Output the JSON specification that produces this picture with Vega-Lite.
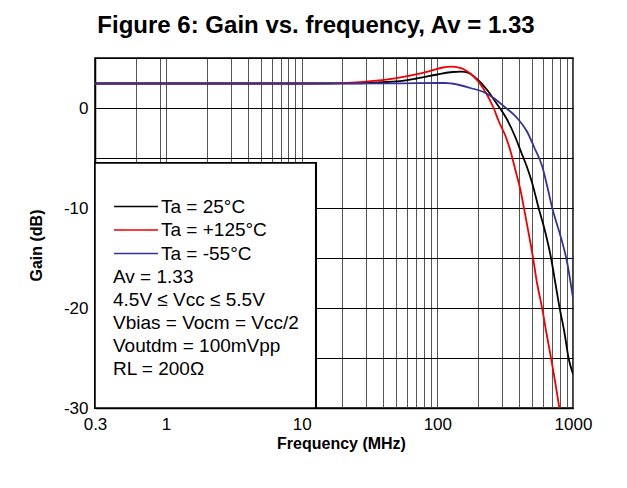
{
  "$schema": "https://vega.github.io/schema/vega-lite/v6.json",
  "width": 478,
  "height": 350,
  "autosize": {"type": "none"},
  "padding": {"left": 95, "top": 58, "right": 54, "bottom": 80},
  "background": "white",
  "title": {
    "text": "Figure 6: Gain vs. frequency, Av = 1.33",
    "font": "Liberation Sans",
    "fontSize": 24,
    "fontWeight": "bold",
    "color": "#000",
    "anchor": "middle",
    "dx": -18,
    "offset": 11
  },
  "config": {
    "font": "Liberation Sans",
    "view": {"stroke": "#000", "strokeWidth": 1.5},
    "axis": {
      "labelFont": "Liberation Sans",
      "labelFontSize": 17,
      "labelColor": "#000",
      "titleFont": "Liberation Sans",
      "titleFontSize": 16,
      "titleFontWeight": "bold",
      "titleColor": "#000",
      "domainColor": "#000",
      "domainWidth": 1.5,
      "ticks": false,
      "tickSize": 0,
      "gridColor": "#000",
      "gridWidth": 1,
      "gridOpacity": 1,
      "labelOverlap": false,
      "labelFlush": false
    }
  },
  "data": {
    "values": [
      {"f": 0.3, "g": 2.45, "t": "Ta = 25°C"},
      {"f": 1, "g": 2.45, "t": "Ta = 25°C"},
      {"f": 10, "g": 2.45, "t": "Ta = 25°C"},
      {"f": 20, "g": 2.46, "t": "Ta = 25°C"},
      {"f": 30, "g": 2.5, "t": "Ta = 25°C"},
      {"f": 40, "g": 2.58, "t": "Ta = 25°C"},
      {"f": 50, "g": 2.66, "t": "Ta = 25°C"},
      {"f": 70, "g": 2.95, "t": "Ta = 25°C"},
      {"f": 100, "g": 3.35, "t": "Ta = 25°C"},
      {"f": 130, "g": 3.6, "t": "Ta = 25°C"},
      {"f": 150, "g": 3.63, "t": "Ta = 25°C"},
      {"f": 170, "g": 3.5, "t": "Ta = 25°C"},
      {"f": 196, "g": 2.9, "t": "Ta = 25°C"},
      {"f": 233, "g": 1.8, "t": "Ta = 25°C"},
      {"f": 272, "g": 0.5, "t": "Ta = 25°C"},
      {"f": 322, "g": -1.0, "t": "Ta = 25°C"},
      {"f": 370, "g": -2.7, "t": "Ta = 25°C"},
      {"f": 420, "g": -4.6, "t": "Ta = 25°C"},
      {"f": 458, "g": -5.9, "t": "Ta = 25°C"},
      {"f": 500, "g": -7.5, "t": "Ta = 25°C"},
      {"f": 558, "g": -10, "t": "Ta = 25°C"},
      {"f": 627, "g": -12.5, "t": "Ta = 25°C"},
      {"f": 689, "g": -15, "t": "Ta = 25°C"},
      {"f": 741, "g": -17.5, "t": "Ta = 25°C"},
      {"f": 797, "g": -20, "t": "Ta = 25°C"},
      {"f": 866, "g": -22.5, "t": "Ta = 25°C"},
      {"f": 927, "g": -25, "t": "Ta = 25°C"},
      {"f": 1000, "g": -26.6, "t": "Ta = 25°C"},
      {"f": 0.3, "g": 2.45, "t": "Ta = +125°C"},
      {"f": 1, "g": 2.45, "t": "Ta = +125°C"},
      {"f": 10, "g": 2.45, "t": "Ta = +125°C"},
      {"f": 16, "g": 2.47, "t": "Ta = +125°C"},
      {"f": 28.6, "g": 2.62, "t": "Ta = +125°C"},
      {"f": 50, "g": 2.98, "t": "Ta = +125°C"},
      {"f": 70.8, "g": 3.38, "t": "Ta = +125°C"},
      {"f": 88.8, "g": 3.72, "t": "Ta = +125°C"},
      {"f": 110, "g": 4.05, "t": "Ta = +125°C"},
      {"f": 125, "g": 4.13, "t": "Ta = +125°C"},
      {"f": 147, "g": 4.02, "t": "Ta = +125°C"},
      {"f": 175, "g": 3.45, "t": "Ta = +125°C"},
      {"f": 202, "g": 2.6, "t": "Ta = +125°C"},
      {"f": 233, "g": 1.3, "t": "Ta = +125°C"},
      {"f": 260, "g": 0, "t": "Ta = +125°C"},
      {"f": 284, "g": -1.35, "t": "Ta = +125°C"},
      {"f": 318, "g": -2.8, "t": "Ta = +125°C"},
      {"f": 346, "g": -4.3, "t": "Ta = +125°C"},
      {"f": 376, "g": -6.2, "t": "Ta = +125°C"},
      {"f": 410, "g": -8.2, "t": "Ta = +125°C"},
      {"f": 446, "g": -10.8, "t": "Ta = +125°C"},
      {"f": 486, "g": -13.5, "t": "Ta = +125°C"},
      {"f": 508, "g": -15, "t": "Ta = +125°C"},
      {"f": 543, "g": -17.5, "t": "Ta = +125°C"},
      {"f": 592, "g": -20, "t": "Ta = +125°C"},
      {"f": 637, "g": -22.5, "t": "Ta = +125°C"},
      {"f": 689, "g": -25, "t": "Ta = +125°C"},
      {"f": 741, "g": -27.5, "t": "Ta = +125°C"},
      {"f": 793, "g": -30, "t": "Ta = +125°C"},
      {"f": 0.3, "g": 2.45, "t": "Ta = -55°C"},
      {"f": 1, "g": 2.45, "t": "Ta = -55°C"},
      {"f": 10, "g": 2.45, "t": "Ta = -55°C"},
      {"f": 50, "g": 2.46, "t": "Ta = -55°C"},
      {"f": 100, "g": 2.5, "t": "Ta = -55°C"},
      {"f": 115, "g": 2.5, "t": "Ta = -55°C"},
      {"f": 140, "g": 2.35, "t": "Ta = -55°C"},
      {"f": 175, "g": 2.0, "t": "Ta = -55°C"},
      {"f": 219, "g": 1.6, "t": "Ta = -55°C"},
      {"f": 260, "g": 1.0, "t": "Ta = -55°C"},
      {"f": 309, "g": 0.17, "t": "Ta = -55°C"},
      {"f": 387, "g": -1.0, "t": "Ta = -55°C"},
      {"f": 458, "g": -2.35, "t": "Ta = -55°C"},
      {"f": 520, "g": -4.0, "t": "Ta = -55°C"},
      {"f": 592, "g": -5.8, "t": "Ta = -55°C"},
      {"f": 650, "g": -8.0, "t": "Ta = -55°C"},
      {"f": 703, "g": -10, "t": "Ta = -55°C"},
      {"f": 809, "g": -12.8, "t": "Ta = -55°C"},
      {"f": 901, "g": -15.3, "t": "Ta = -55°C"},
      {"f": 1000, "g": -19.0, "t": "Ta = -55°C"}
    ]
  },
  "layer": [
    {
      "mark": {"type": "line", "strokeWidth": 1.8, "interpolate": "monotone", "clip": true},
      "encoding": {
        "x": {
          "field": "f",
          "type": "quantitative",
          "scale": {"type": "log", "domain": [0.3, 1000], "nice": false},
          "axis": {
            "title": "Frequency (MHz)",
            "values": [0.3, 0.6, 0.9, 1, 2, 3, 4, 5, 6, 7, 8, 9, 10, 20, 30, 40, 50, 60, 70, 80, 90, 100, 200, 300, 400, 500, 600, 700, 800, 900, 1000],
            "labelExpr": "indexof([0.3, 1, 10, 100, 1000], datum.value) >= 0 ? '' + datum.value : ''",
            "labelPadding": 8,
            "gridColor": "#555",
            "titleX": 246,
            "titleY": 35,
            "titleBaseline": "middle",
            "titleAlign": "center"
          }
        },
        "y": {
          "field": "g",
          "type": "quantitative",
          "scale": {"domain": [-30, 5], "nice": false},
          "axis": {
            "title": "Gain (dB)",
            "values": [-30, -25, -20, -15, -10, -5, 0, 5],
            "labelExpr": "datum.value % 10 === 0 ? '' + datum.value : ''",
            "labelPadding": 7,
            "titleAngle": -90,
            "titleX": -59,
            "titleY": 187,
            "titleBaseline": "middle",
            "titleAlign": "center"
          }
        },
        "color": {
          "field": "t",
          "type": "nominal",
          "sort": ["Ta = 25°C", "Ta = +125°C", "Ta = -55°C"],
          "scale": {"domain": ["Ta = 25°C", "Ta = +125°C", "Ta = -55°C"], "range": ["#000000", "#f00000", "#333399"]},
          "legend": {
            "orient": "none",
            "legendX": 18,
            "legendY": 139,
            "padding": 0,
            "symbolType": "stroke",
            "symbolSize": 1936,
            "symbolStrokeWidth": 1.5,
            "clipHeight": 19,
            "labelFont": "Liberation Sans",
            "labelFontSize": 19,
            "labelColor": "#000",
            "labelOffset": 2,
            "rowPadding": 3.5,
            "title": ["Av = 1.33", "4.5V ≤ Vcc ≤ 5.5V", "Vbias = Vocm = Vcc/2", "Voutdm = 100mVpp", "RL = 200Ω"],
            "titleOrient": "bottom",
            "titleAnchor": "start",
            "titleAlign": "left",
            "titleFont": "Liberation Sans",
            "titleFontSize": 19,
            "titleFontWeight": "normal",
            "titleColor": "#000",
            "titleLineHeight": 23,
            "titlePadding": 4,
            "titleLimit": 300
          }
        }
      }
    },
    {
      "mark": {"type": "rect", "fill": "white", "stroke": "#000", "strokeWidth": 1.5},
      "encoding": {
        "x": {"datum": 0.3, "type": "quantitative"},
        "x2": {"datum": 12.7},
        "y": {"datum": -30, "type": "quantitative"},
        "y2": {"datum": -5.5}
      }
    }
  ]
}
